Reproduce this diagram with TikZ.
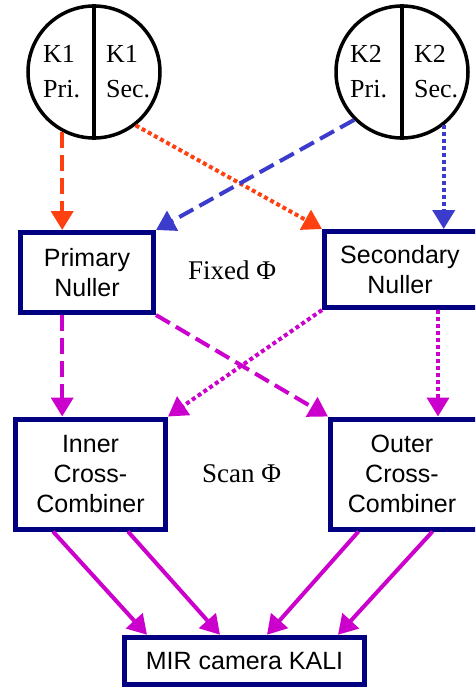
\documentclass[tikz,border=0pt]{standalone}
\usepackage{fontspec}
\setmainfont{Liberation Serif}
\newfontfamily\boxfont{Liberation Sans}
\usetikzlibrary{arrows.meta,calc}

\definecolor{navy}{HTML}{000080}
\definecolor{redorange}{HTML}{FF4010}
\definecolor{beamblue}{HTML}{3B3BCC}
\definecolor{combmag}{HTML}{CC00CC}

\begin{document}
\begin{tikzpicture}[x=1pt,y=-1pt,
  stage/.style={draw=navy, line width=5pt, fill=white, inner sep=0pt, align=center,
    font=\boxfont\fontsize{25}{30}\selectfont},
  stagetext/.style={inner sep=0pt, align=center, font=\boxfont\fontsize{25}{30}\selectfont},
  telescope/.style={circle, draw=black, line width=3.5pt, minimum size=132pt, inner sep=0pt},
  half/.style={anchor=base west, inner sep=0pt, font=\fontsize{26}{30}\selectfont},
  phase/.style={anchor=base west, inner sep=0pt, font=\fontsize{27}{32}\selectfont},
  beam/.style={line width=4pt, -{Triangle[length=19pt,width=22pt]}},
  longdash/.style={dash pattern=on 16pt off 7pt},
  shortdot/.style={dash pattern=on 4pt off 3pt},
]
\useasboundingbox (0,0) rectangle (475,688);
\clip (0,0) rectangle (475,688);
\fill[white] (0,0) rectangle (475,688);

% telescopes, each split into primary and secondary halves
\node[telescope] (k1) at (94,72) {};
\draw[line width=3.5pt] (k1.north) -- (k1.south);
\node[telescope] (k2) at (402,72) {};
\draw[line width=3.5pt] (k2.north) -- (k2.south);

\node[half] (k1pa) at (43,62) {K1};
\node[half] (k1pb) at (43,97) {Pri.};
\node[half] (k1sa) at (106,62) {K1};
\node[half] (k1sb) at (106,97) {Sec.};
\node[half] (k2pa) at (350,62) {K2};
\node[half] (k2pb) at (350,97) {Pri.};
\node[half] (k2sa) at (414,62) {K2};
\node[half] (k2sb) at (414,97) {Sec.};

% combining stages (the two on the right run past the edge)
\node[stage, minimum width=133pt, minimum height=80pt] (prim) at (87,272.5) {Primary\\Nuller};
\node[stage, minimum width=165pt, minimum height=76pt] (sec) at (407,269.5) {};
\node[stagetext] (sectext) at (400,269.5) {Secondary\\Nuller};
\node[stage, minimum width=150pt, minimum height=110pt] (inner) at (90.5,474) {Inner\\Cross-\\Combiner};
\node[stage, minimum width=160pt, minimum height=110pt] (outer) at (410.5,474) {};
\node[stagetext] (outertext) at (402,474) {Outer\\Cross-\\Combiner};
\node[stage, minimum width=240pt, minimum height=47.5pt] (mir) at (244.5,661) {MIR camera KALI};

\node[phase] (fixed) at (188,279) {Fixed Φ};
\node[phase] (scan) at (202,482) {Scan Φ};

% telescope beams into the nullers
\draw[beam, redorange, longdash] (k1.-118) -- (k1.-118 |- prim.north);
\draw[beam, redorange, shortdot] (k1.-52) -- (sec.north west);
\draw[beam, beamblue, longdash] (k2.-135) -- (prim.north east);
\draw[beam, beamblue, shortdot] (k2.-52) -- (k2.-52 |- sec.north);

% nuller outputs into the cross-combiners
\draw[beam, combmag, longdash] (prim.south -| k1.-118) -- (inner.north -| k1.-118);
\draw[beam, combmag, longdash] (prim.south east) -- (outer.north west);
\draw[beam, combmag, shortdot] (sec.south west) -- (inner.north east);
\draw[beam, combmag, shortdot] ($(sec.south west)+(116,0)$) -- ($(outer.north west)+(110,0)$);

% cross-combiner outputs onto the camera
\draw[beam, combmag] ($(inner.south west)+(40,0)$) -- ($(mir.north west)+(25,0)$);
\draw[beam, combmag] ($(inner.south west)+(115,0)$) -- ($(mir.north west)+(98,0)$);
\draw[beam, combmag] ($(outer.south west)+(30.5,0)$) -- ($(mir.north west)+(145,0)$);
\draw[beam, combmag] ($(outer.south west)+(104.5,0)$) -- ($(mir.north west)+(216,0)$);
\end{tikzpicture}
\end{document}
